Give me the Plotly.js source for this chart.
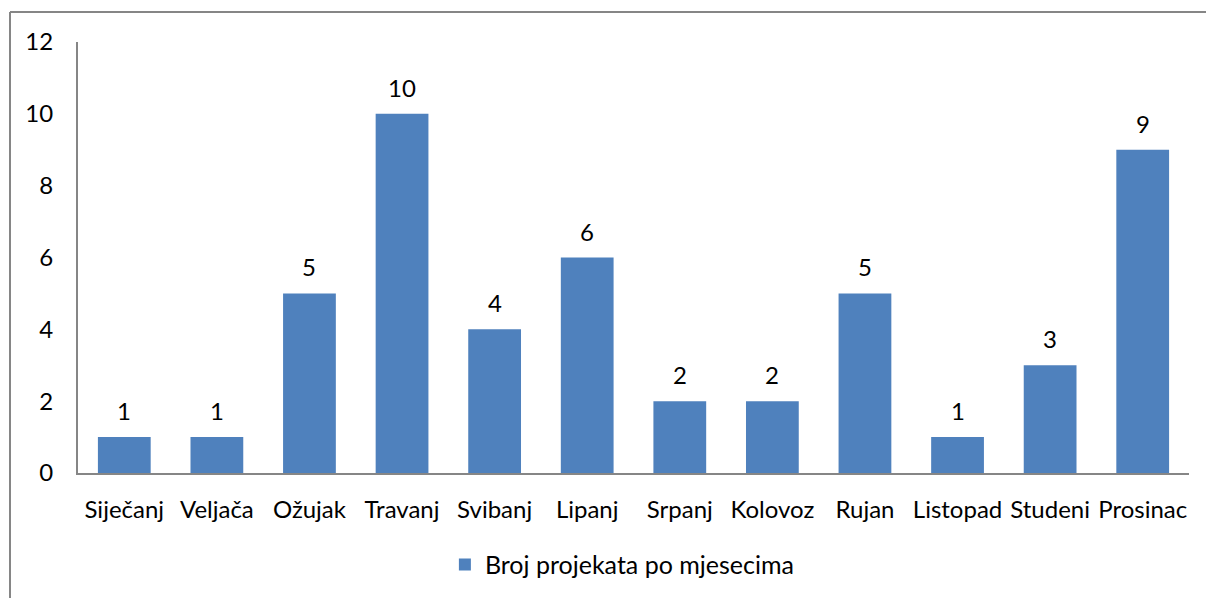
<!DOCTYPE html>
<html><head><meta charset="utf-8">
<script src="https://cdn.plot.ly/plotly-3.0.1.min.js"></script>
<style>html,body{margin:0;padding:0;background:#fff}#c{width:1206px;height:598px}</style>
</head><body><div id="c"></div>
<script>
const months = ["Siječanj","Veljača","Ožujak","Travanj","Svibanj","Lipanj","Srpanj","Kolovoz","Rujan","Listopad","Studeni","Prosinac"];
const projects = [1,1,5,10,4,6,2,2,5,1,3,9];
const seriesName = "Broj projekata po mjesecima";
const yTicks = [0,2,4,6,8,10,12];

const font = "Lato, 'Open Sans', sans-serif";
const fs = 24;
const trace = {
  type: "bar", x: months, y: projects, name: seriesName,
  marker: {color: "#4F81BD"}, hoverinfo: "none"
};
const ann = months.map((m,i)=>({x:m, y:projects[i], text:String(projects[i]), showarrow:false,
  yanchor:"bottom", yshift:10, font:{family:font,size:fs,color:"#000"}}));
const layout = {
  width:1206, height:598,
  margin:{l:78, r:17, t:42, b:124},
  paper_bgcolor:"#fff", plot_bgcolor:"#fff",
  bargap:0.43,
  showlegend:true,
  legend:{orientation:"h", x:0.49, xanchor:"center", y:-0.21, yanchor:"middle",
    font:{family:font,size:25,color:"#000"}, itemwidth:30},
  xaxis:{showgrid:false, zeroline:false, showline:true, linecolor:"#868686", linewidth:2,
    ticks:"", tickfont:{family:font,size:fs,color:"#000"}, ticklabelstandoff:14, fixedrange:true},
  yaxis:{range:[0,12], tickvals:yTicks, showgrid:false, zeroline:false, showline:true,
    linecolor:"#868686", linewidth:2, ticks:"", ticklabelstandoff:18,
    tickfont:{family:font,size:fs,color:"#000"}, fixedrange:true},
  annotations: ann,
  shapes:[
    {type:"line", xref:"paper", yref:"paper", x0:(10-78)/1111, x1:(10-78)/1111, y0:-0.4, y1:1+(42-12)/432, line:{color:"#868686",width:2}},
    {type:"line", xref:"paper", yref:"paper", x0:(10-78)/1111, x1:1.1, y0:1+(42-12)/432, y1:1+(42-12)/432, line:{color:"#868686",width:2}}
  ]
};
Plotly.newPlot("c",[trace],layout,{displayModeBar:false,staticPlot:true});
</script></body></html>
